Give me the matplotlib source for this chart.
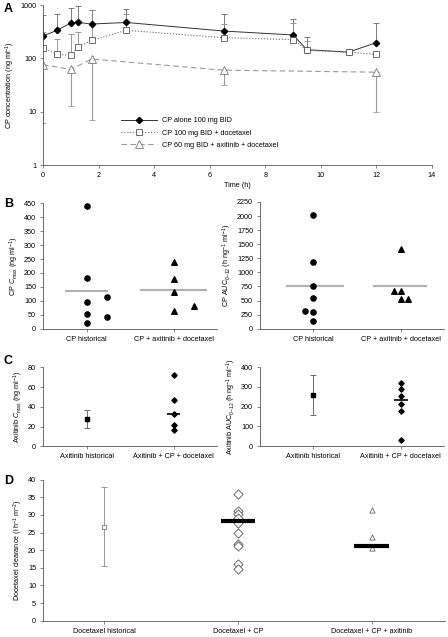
import matplotlib.pyplot as plt
import numpy as np

plt.rcParams['font.family'] = ['Liberation Sans', 'DejaVu Sans']
plt.rcParams['mathtext.fontset'] = 'custom'
plt.rcParams['mathtext.rm'] = 'Liberation Sans'
plt.rcParams['mathtext.it'] = 'Liberation Sans:italic'

# panel A - CP concentration vs time
time_cp = [0, 0.5, 1, 1.25, 1.75, 3, 6.5, 9, 9.5, 11, 12]
cp_alone = [262, 335, 460, 473, 440, 470, 325, 274, 145, 131, 197]
cp_alone_upper = [640, 688, 890, 944, 818, 829, 688, 539, 251, 131, 460]
cp_doc = [158, 119, 114, 163, 217, 335, 244, 224, 141, 130, 119]
cp_doc_upper = [312, 234, 290, 312, 800, 668, 446, 460, 208, 130, 119]
time_tri = [0, 1, 1.75, 6.5, 12]
cp_axi_doc = [76, 62, 97, 60, 55]
cp_axi_doc_lower = [6.2, 12.8, 6.9, 31, 9.9]

# panel B
cp_cmax_hist = [440, 181, 115, 96, 53, 43, 20]
cp_cmax_combo = [238, 180, 130, 81, 62]
cp_auc_hist = [2019, 1184, 752, 545, 308, 302, 142]
cp_auc_combo = [1421, 663, 675, 533, 533]
b_cats = ['CP historical', 'CP + axitinib + docetaxel']

# panel C
axi_cmax_hist = 27.7
axi_cmax_hist_err = [18.2, 36.5]
axi_cmax_combo = [72.2, 46.9, 32.4, 21.6, 16.5]
axi_auc_hist = 259
axi_auc_hist_err = [160, 361]
axi_auc_combo = [317.8, 287.5, 253.7, 213.4, 178, 31.8]
c_cats = ['Axitinib historical', 'Axitinib + CP + docetaxel']

# panel D
doc_hist = 26.6
doc_hist_err = [15.5, 37.8]
doc_cp = [35.9, 31.1, 30.2, 29.1, 27.6, 24.8, 21.7, 21.2, 16.2, 14.8]
doc_cp_line = 28.3
doc_cp_axi = [31.4, 23.8, 20.5]
doc_cp_axi_line = 21.2
d_cats = ['Docetaxel historical', 'Docetaxel + CP', 'Docetaxel + CP + axitinib']

FS = 5.2
W, H = 448, 637


def box(x0, x1, y0, y1):
    return [x0 / W, 1 - y1 / H, (x1 - x0) / W, (y1 - y0) / H]


def style(ax):
    for s in ['top', 'right']:
        ax.spines[s].set_visible(False)
    for s in ['left', 'bottom']:
        ax.spines[s].set_color('#555555')
        ax.spines[s].set_linewidth(0.6)
    ax.tick_params(labelsize=FS, length=2.5, width=0.5, color='#555555', pad=2.5)


fig = plt.figure(figsize=(4.48, 6.37), dpi=100)

# ---- A ----
ax = fig.add_axes(box(43, 432, 5, 165))
style(ax)
up = np.array(cp_alone_upper) - np.array(cp_alone)
ax.errorbar(time_cp, cp_alone, yerr=[np.zeros(len(up)), up], fmt='none',
            ecolor='#666666', elinewidth=0.6, capsize=2.5, capthick=0.6)
up = np.array(cp_doc_upper) - np.array(cp_doc)
ax.errorbar(time_cp, cp_doc, yerr=[np.zeros(len(up)), up], fmt='none',
            ecolor='#888888', elinewidth=0.6, capsize=2.5, capthick=0.6)
lo = np.array(cp_axi_doc) - np.array(cp_axi_doc_lower)
ax.errorbar(time_tri, cp_axi_doc, yerr=[lo, np.zeros(len(lo))], fmt='none',
            ecolor='#999999', elinewidth=0.8, capsize=2.5, capthick=0.6)
ax.plot(time_cp, cp_alone, '-', color='#333333', lw=0.7, marker='D',
        ms=3.2, mfc='black', mec='black', label='CP alone 100 mg BID')
ax.plot(time_cp, cp_doc, ':', color='#666666', lw=0.8, marker='s',
        ms=4, mfc='white', mec='#555555', mew=0.6, label='CP 100 mg BID + docetaxel')
ax.plot(time_tri, cp_axi_doc, '--', color='#999999', lw=0.8, marker='^',
        ms=6, mfc='white', mec='#777777', mew=0.6,
        label='CP 60 mg BID + axitinib + docetaxel', dashes=(5, 3))
ax.set_yscale('log')
ax.set_ylim(1, 1000)
ax.set_xlim(0, 14)
ax.set_xticks(range(0, 15, 2))
ax.set_yticks([1, 10, 100, 1000])
ax.set_yticklabels(['1', '10', '100', '1000'])
ax.minorticks_off()
ax.set_xlabel('Time (h)', fontsize=FS, labelpad=2)
ax.set_ylabel('CP concentration (ng ml$^{-1}$)', fontsize=FS, labelpad=2)
ax.legend(loc='upper left', bbox_to_anchor=(0.19, 0.32), frameon=False,
          fontsize=FS, handlelength=5, labelspacing=0.7, borderpad=0)
fig.text(4 / W, 1 - 9 / H, 'A', fontsize=9, fontweight='bold', va='center')


def cat_axis(ax, cats, xlim):
    ax.set_xticks(range(1, len(cats) + 1))
    ax.set_xticklabels(cats, fontsize=FS)
    ax.set_xlim(*xlim)


# ---- B ----
ax = fig.add_axes(box(43, 217, 203.3, 328.7))
style(ax)
off = [0, 0, 0.23, 0, 0, 0.23, 0]
ax.scatter(1 + np.array(off), cp_cmax_hist, s=14, marker='o', color='black', zorder=3)
off = [0, 0, 0, 0.23, 0]
ax.scatter(2 + np.array(off), cp_cmax_combo, s=16, marker='^', color='black', zorder=3)
ax.hlines(np.mean(cp_cmax_hist), 0.75, 1.25, color='#b0b0b0', lw=1.5)
ax.hlines(np.mean(cp_cmax_combo), 1.62, 2.38, color='#b0b0b0', lw=1.5)
cat_axis(ax, b_cats, (0.5, 2.5))
ax.set_ylim(0, 450)
ax.set_yticks(range(0, 451, 50))
ax.set_ylabel('CP $C_{\\rm max}$ (ng ml$^{-1}$)', fontsize=FS, labelpad=2)
fig.text(4 / W, 1 - 204 / H, 'B', fontsize=9, fontweight='bold', va='center')

ax = fig.add_axes(box(260, 444, 202, 328.7))
style(ax)
off = [0, 0, 0, 0, -0.09, 0, 0]
ax.scatter(1 + np.array(off), cp_auc_hist, s=14, marker='o', color='black', zorder=3)
off = [0, -0.08, 0, 0, 0.08]
ax.scatter(2 + np.array(off), cp_auc_combo, s=16, marker='^', color='black', zorder=3)
ax.hlines(np.mean(cp_auc_hist), 0.7, 1.35, color='#b0b0b0', lw=1.5)
ax.hlines(np.mean(cp_auc_combo), 1.68, 2.3, color='#b0b0b0', lw=1.5)
cat_axis(ax, b_cats, (0.4, 2.49))
ax.set_ylim(0, 2250)
ax.set_yticks(range(0, 2251, 250))
ax.set_ylabel('CP AUC$_{0\u201312}$ (h ng$^{-1}$ ml$^{-1}$)', fontsize=FS, labelpad=2)

# ---- C ----
ax = fig.add_axes(box(43, 217, 367.3, 446.3))
style(ax)
ax.errorbar([1], [axi_cmax_hist],
            yerr=[[axi_cmax_hist - axi_cmax_hist_err[0]], [axi_cmax_hist_err[1] - axi_cmax_hist]],
            fmt='s', color='black', ms=3, ecolor='#555555', elinewidth=0.6,
            capsize=2, capthick=0.6)
ax.scatter([2] * len(axi_cmax_combo), axi_cmax_combo, s=7, marker='D', color='black', zorder=3)
ax.hlines(np.median(axi_cmax_combo), 1.92, 2.08, color='black', lw=1.2)
cat_axis(ax, c_cats, (0.5, 2.5))
ax.set_ylim(0, 80)
ax.set_yticks(range(0, 81, 20))
ax.set_ylabel('Axitinib $C_{\\rm max}$ (ng ml$^{-1}$)', fontsize=FS, labelpad=2)
fig.text(4 / W, 1 - 361 / H, 'C', fontsize=9, fontweight='bold', va='center')

ax = fig.add_axes(box(260, 444, 367, 446.3))
style(ax)
ax.errorbar([1], [axi_auc_hist],
            yerr=[[axi_auc_hist - axi_auc_hist_err[0]], [axi_auc_hist_err[1] - axi_auc_hist]],
            fmt='s', color='black', ms=3, ecolor='#555555', elinewidth=0.6,
            capsize=2, capthick=0.6)
ax.scatter([2] * len(axi_auc_combo), axi_auc_combo, s=7, marker='D', color='black', zorder=3)
ax.hlines(np.median(axi_auc_combo), 1.92, 2.08, color='black', lw=1.2)
cat_axis(ax, c_cats, (0.4, 2.49))
ax.set_ylim(0, 400)
ax.set_yticks(range(0, 401, 100))
ax.set_ylabel('Axitinib AUC$_{0\u201312}$ (h ng$^{-1}$ ml$^{-1}$)', fontsize=FS, labelpad=2)

# ---- D ----
ax = fig.add_axes(box(43, 445, 479.7, 620.7))
style(ax)
ax.errorbar([1], [doc_hist],
            yerr=[[doc_hist - doc_hist_err[0]], [doc_hist_err[1] - doc_hist]],
            fmt='s', mfc='white', mec='#777777', ms=3.5, mew=0.6,
            ecolor='#888888', elinewidth=0.6, capsize=2.5, capthick=0.6)
ax.scatter([2] * len(doc_cp), doc_cp, s=22, marker='D', facecolor='white',
           edgecolor='#555555', linewidths=0.6, zorder=3)
ax.hlines(doc_cp_line, 1.87, 2.13, color='black', lw=3, zorder=4)
ax.scatter([3] * len(doc_cp_axi), doc_cp_axi, s=14, marker='^', facecolor='white',
           edgecolor='#666666', linewidths=0.6, zorder=3)
ax.hlines(doc_cp_axi_line, 2.87, 3.13, color='black', lw=3, zorder=4)
cat_axis(ax, d_cats, (0.54, 3.55))
ax.set_ylim(0, 40)
ax.set_yticks(range(0, 41, 5))
ax.set_ylabel('Docetaxel clearance (l h$^{-1}$ m$^{-2}$)', fontsize=FS, labelpad=2)
fig.text(4 / W, 1 - 481 / H, 'D', fontsize=9, fontweight='bold', va='center')

fig.savefig('out.png', dpi=100)
